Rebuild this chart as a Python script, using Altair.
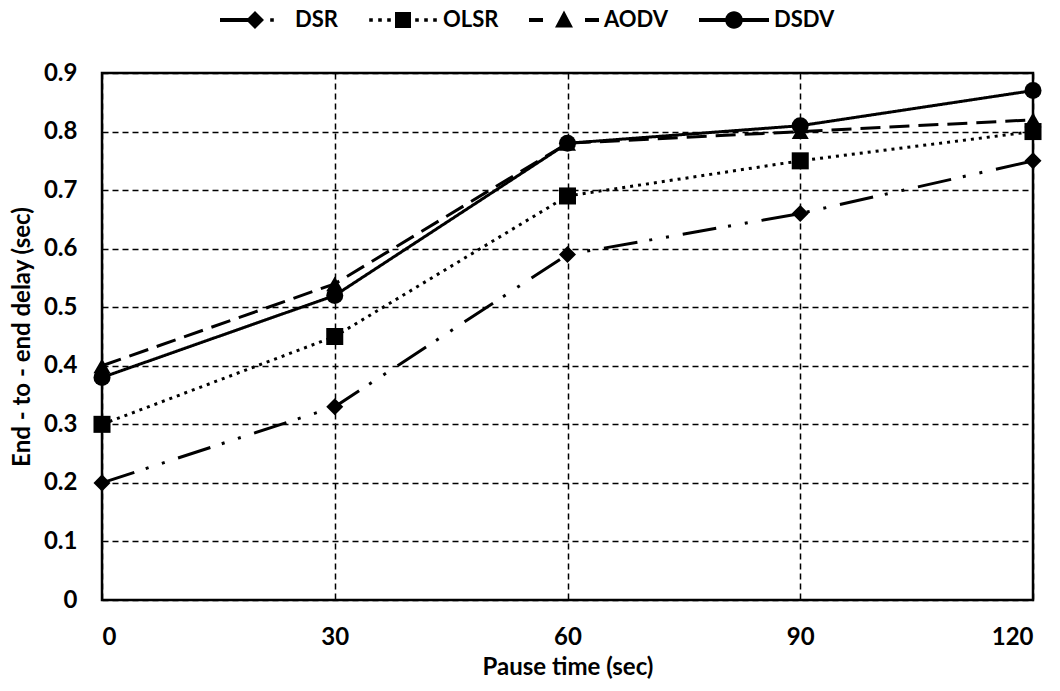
import altair as alt
import pandas as pd

pause = [0, 30, 60, 90, 120]
protocols = ["DSR", "OLSR", "AODV", "DSDV"]
dsr = [0.20, 0.33, 0.59, 0.66, 0.75]
olsr = [0.30, 0.45, 0.69, 0.75, 0.80]
aodv = [0.40, 0.54, 0.78, 0.80, 0.82]
dsdv = [0.38, 0.52, 0.78, 0.81, 0.87]
y_ticks = [0, 0.1, 0.2, 0.3, 0.4, 0.5, 0.6, 0.7, 0.8, 0.9]

rows = []
for name, vals in zip(protocols, [dsr, olsr, aodv, dsdv]):
    for p, v in zip(pause, vals):
        rows.append({"Pause": p, "Delay": v, "Protocol": name})
df = pd.DataFrame(rows)

FONT = "Lato"
FS = 24

dash_range = [[34, 12, 3, 14, 3, 14], [3, 5], [20, 9], [1, 0]]
shape_range = ["diamond", "square", "triangle-up", "circle"]

# ---- legend symbol glyphs (line pieces + marker), drawn as filled paths ----
SYM_W = 70.0            # symbol width in px
HALF = SYM_W / 2        # vega scales custom paths by sqrt(size)/2


def u(px):
    return round((px - HALF) / HALF, 4)


def uy(py):
    return round(py / HALF, 4)


def seg(a, b, t=2.0):
    return f"M{u(a)},{uy(-t)}L{u(b)},{uy(-t)}L{u(b)},{uy(t)}L{u(a)},{uy(t)}Z"


def dot(c, r=1.8):
    return seg(c - r, c + r, r)


MK = 9.0
diamond = f"M{u(HALF)},{uy(-MK)}L{u(HALF + MK)},0L{u(HALF)},{uy(MK)}L{u(HALF - MK)},0Z"
square = f"M{u(HALF - 8)},{uy(-8)}L{u(HALF + 8)},{uy(-8)}L{u(HALF + 8)},{uy(8)}L{u(HALF - 8)},{uy(8)}Z"
triangle = f"M{u(HALF)},{uy(-9.5)}L{u(HALF + 9)},{uy(7.5)}L{u(HALF - 9)},{uy(7.5)}Z"
r = round(8.8 / HALF, 4)
circle = f"M{-r},0A{r},{r} 0 1,1 {r},0A{r},{r} 0 1,1 {-r},0Z"

legend_paths = [
    seg(0, 28) + diamond + dot(52),
    dot(3) + dot(12) + dot(21) + square + dot(49) + dot(58) + dot(67),
    seg(0, 14) + triangle + seg(56, 70),
    seg(0, 70) + circle,
]
LEG_SIZE = int(SYM_W * SYM_W)

x_enc = alt.X("Pause:Q", scale=alt.Scale(domain=[0, 120], nice=False),
              axis=alt.Axis(values=pause, title="Pause time (sec)", labelPadding=25,
                            titlePadding=6))
y_enc = alt.Y("Delay:Q", scale=alt.Scale(domain=[0, 0.9], nice=False),
              axis=alt.Axis(values=y_ticks, title="End - to - end delay (sec)",
                            labelExpr="datum.value == 0 ? '0' : format(datum.value, '.1f')",
                            labelPadding=25, titlePadding=9))

base = alt.Chart(df).encode(x=x_enc, y=y_enc)

lines = base.mark_line(color="black", strokeWidth=3).encode(
    strokeDash=alt.StrokeDash("Protocol:N", scale=alt.Scale(domain=protocols, range=dash_range),
                              legend=None),
    detail="Protocol:N",
)
points = base.mark_point(filled=True, size=290, color="black", opacity=1).encode(
    shape=alt.Shape("Protocol:N", scale=alt.Scale(domain=protocols, range=shape_range),
                    legend=None),
)
# legend-only layer (no rows drawn), its symbols are line + marker glyphs
legend_layer = base.transform_filter("datum.Delay < 0").mark_point(
    filled=True, size=LEG_SIZE, fill="black", strokeWidth=0, opacity=1
).encode(
    shape=alt.Shape("Protocol:N", scale=alt.Scale(domain=protocols, range=legend_paths),
                    legend=alt.Legend(title=None)),
)

chart = alt.layer(lines, points, legend_layer).resolve_scale(
    shape="independent", strokeDash="independent"
).properties(
    width=931, height=527,
    autosize=alt.AutoSizeParams(type="none"),
    padding={"left": 102, "top": 73, "right": 27, "bottom": 91},
).configure_view(
    stroke="black", strokeWidth=2.5
).configure_axis(
    grid=True, gridColor="black", gridDash=[6, 4], gridWidth=1.5, gridOpacity=1,
    domain=False, ticks=False,
    labelFont=FONT, labelFontSize=FS, labelFontWeight="bold", labelColor="black",
    titleFont=FONT, titleFontSize=FS, titleFontWeight="bold", titleColor="black",
).configure_legend(
    orient="none", direction="horizontal", legendX=118, legendY=-88,
    labelFont=FONT, labelFontSize=22, labelFontWeight="bold", labelColor="black",
    symbolFillColor="black", symbolSize=LEG_SIZE,
    symbolStrokeWidth=0, symbolOpacity=1, columnPadding=30, labelOffset=5,
)

chart.save("out.html", embed_options={"renderer": "svg", "actions": False})
